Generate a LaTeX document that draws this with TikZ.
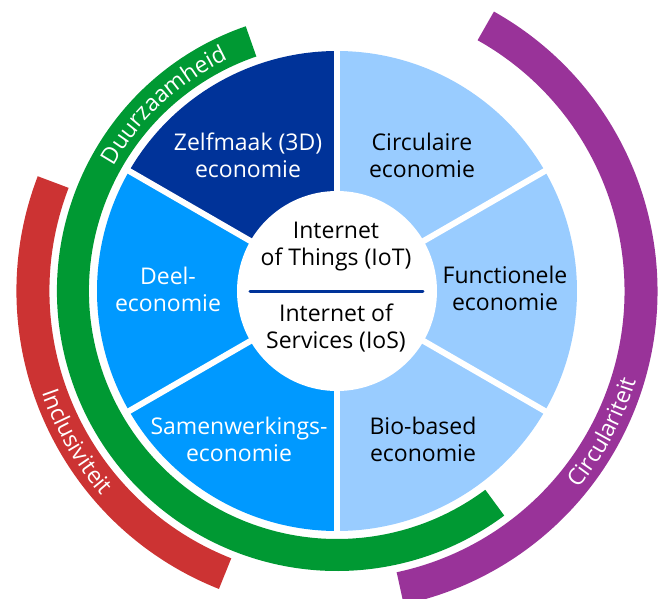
\documentclass[tikz,border=0pt]{standalone}
\usepackage{fontspec}
\setsansfont{Open Sans}
\usetikzlibrary{decorations.text}
\definecolor{donkerblauw}{RGB}{0,51,153}
\definecolor{middenblauw}{RGB}{0,153,255}
\definecolor{lichtblauw}{RGB}{153,204,255}
\definecolor{groen}{RGB}{0,153,51}
\definecolor{rood}{RGB}{204,51,51}
\definecolor{paars}{RGB}{153,51,153}
\newcommand\tekstfont{\sffamily\fontsize{23}{27}\selectfont}
\begin{document}
\begin{tikzpicture}[x=1pt,y=1pt,
    segtekst/.style={font=\tekstfont,align=center},
    boog/.style={line width=33pt},
    boogtekst/.style={decorate,decoration={text along path,text align=center,
      text={|\tekstfont\color{white}|#1}}}]
  \useasboundingbox (-337,-307) rectangle (322,291);
  \foreach \s/\kleur in {90/donkerblauw,30/lichtblauw,-30/lichtblauw,-90/lichtblauw,210/middenblauw,150/middenblauw}
    \fill[\kleur] (0,0) -- (\s:240) arc[start angle=\s,end angle=\s+60,radius=240] -- cycle;
  \foreach \a in {30,90,...,330}
    \draw[white,line width=6pt] (0,0) -- (\a:245);
  \fill[white] (0,0) circle[radius=100];
  \draw[boog,groen,line width=32pt] (109:264) arc[start angle=109,end angle=306.7,radius=264];
  \draw[boog,rood] (159:304) arc[start angle=159,end angle=248.4,radius=304];
  \draw[boog,paars] (60.7:304) arc[start angle=60.7,end angle=-78,radius=304];
  \path[boogtekst=Duurzaamheid] (154:256) arc[start angle=154,end angle=112,radius=256];
  \path[boogtekst=Inclusiviteit] (180:312) arc[start angle=180,end angle=240,radius=312];
  \path[boogtekst=Circulariteit] (-58:312) arc[start angle=-58,end angle=2,radius=312];
  \node[segtekst,text=white] (zelfmaak) at (-89,136) {Zelfmaak (3D)\\economie};
  \node[segtekst] (circulair) at (85,136) {Circulaire\\economie};
  \node[segtekst] (functioneel) at (168,3) {Functionele\\economie};
  \node[segtekst] (biobased) at (86,-148) {Bio-based\\economie};
  \node[segtekst,text=white] (samenwerking) at (-98,-148) {Samenwerkings-\\economie};
  \node[segtekst,text=white] (deel) at (-169,2) {Deel-\\economie};
  \node[segtekst] (iot) at (-1,44) {Internet\\of Things (IoT)};
  \node[segtekst] (ios) at (-1,-37) {Internet of\\Services (IoS)};
  \coordinate (scheidingL) at (-87,0);
  \coordinate (scheidingR) at (86,0);
  \draw[donkerblauw,line width=3pt,line cap=round] (scheidingL) -- (scheidingR);
\end{tikzpicture}
\end{document}
